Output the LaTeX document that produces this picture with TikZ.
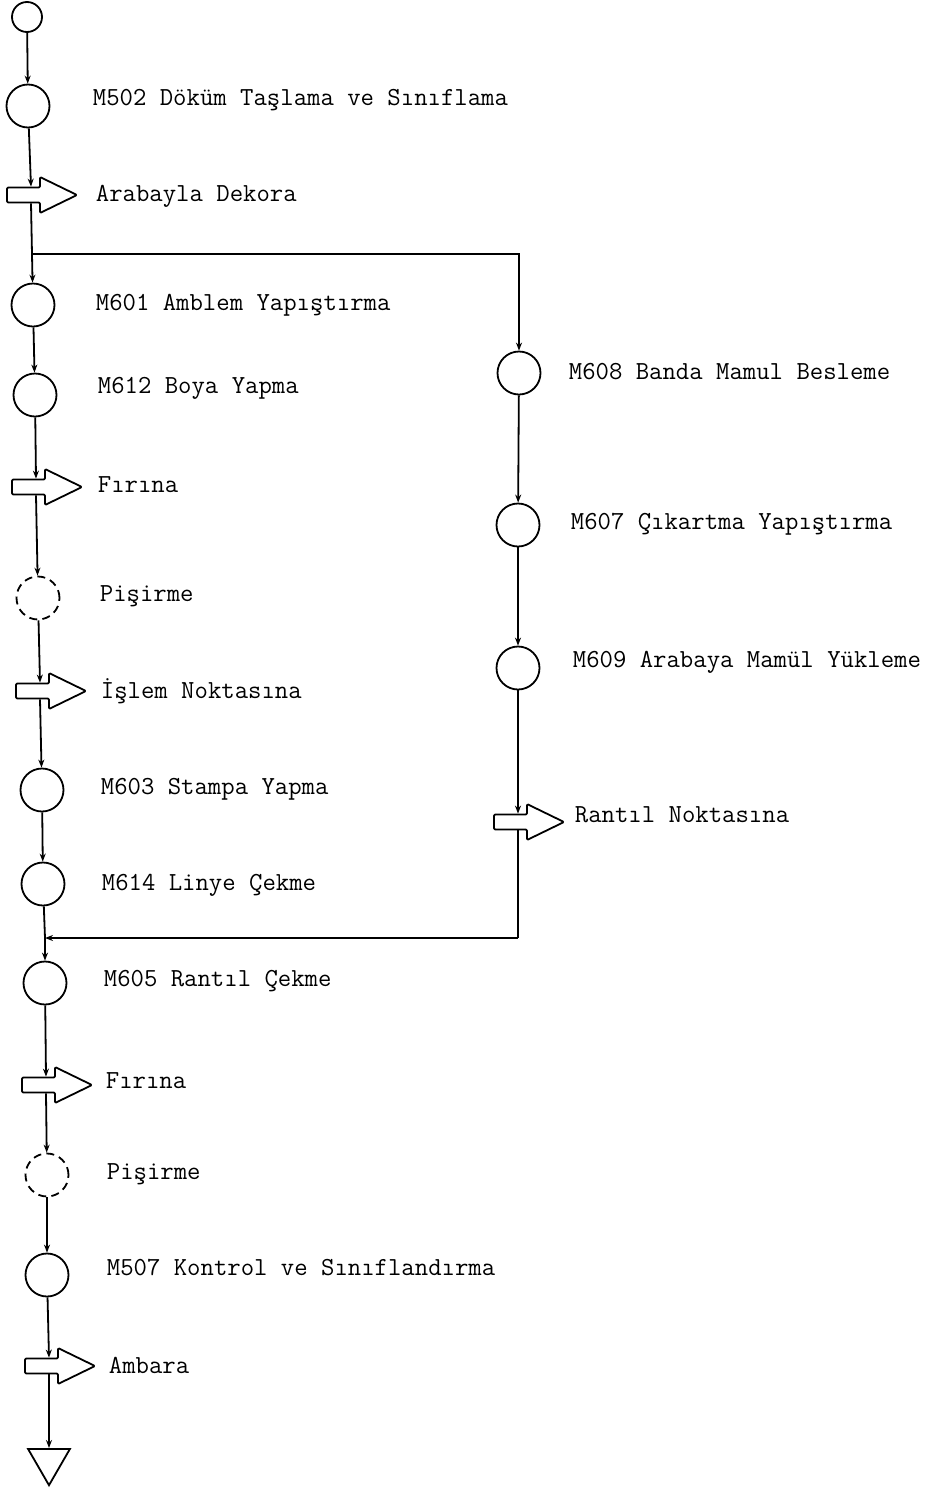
\documentclass[tikz,border=0pt]{standalone}
\usepackage{fontspec}
\usetikzlibrary{arrows.meta,shapes.geometric}
\tikzset{
  every picture/.style={line width=0.9pt},
  stn/.style={circle,draw,minimum size=21.5pt,inner sep=0pt},
  dstn/.style={stn,dash pattern=on 4pt off 2.6pt},
  lbl/.style={anchor=west,inner sep=0pt,font=\ttfamily\fontsize{13}{15}\selectfont},
  body/.style={inner sep=0pt,minimum width=0pt,minimum height=7.5pt},
  con/.style={-{Stealth[length=4pt,width=3pt]}},
  blockarrow/.pic={\draw[line join=round,rounded corners=0.6pt] (-24,7.5) -- (9,7.5) -- (9,18) -- (46,0) -- (9,-18) -- (9,-7.5) -- (-24,-7.5) -- cycle;}
}
\begin{document}
\begin{tikzpicture}[x=0.5pt,y=-0.5pt]
\useasboundingbox (0,0) rectangle (927,1489);
% main column
\node[stn,minimum size=15pt] (start) at (27,17) {};
\node[stn] (m502) at (28,106) {};
\node[lbl] (t502) at (92,100) {M502 Döküm Taşlama ve Sınıflama};
\node[body] (a1) at (31,195) {};
\pic at (a1) {blockarrow};
\node[lbl] (ta1) at (95,196) {Arabayla Dekora};
\coordinate (j1) at (32,254);
\node[stn] (m601) at (33,305) {};
\node[lbl] (t601) at (95,305) {M601 Amblem Yapıştırma};
\node[stn] (m612) at (35,395) {};
\node[lbl] (t612) at (97,388) {M612 Boya Yapma};
\node[body] (a2) at (36,487) {};
\pic at (a2) {blockarrow};
\node[lbl] (ta2) at (97,485) {Fırına};
\node[dstn] (p1) at (38,598) {};
\node[lbl] (tp1) at (99,596) {Pişirme};
\node[body] (a3) at (40,691) {};
\pic at (a3) {blockarrow};
\node[lbl] (ta3) at (100,691) {İşlem Noktasına};
\node[stn] (m603) at (42,790) {};
\node[lbl] (t603) at (100,789) {M603 Stampa Yapma};
\node[stn] (m614) at (43,884) {};
\node[lbl] (t614) at (101,885) {M614 Linye Çekme};
\coordinate (mg) at (45,938);
\node[stn] (m605) at (45,983) {};
\node[lbl] (t605) at (103,981) {M605 Rantıl Çekme};
\node[body] (a4) at (46,1085) {};
\pic at (a4) {blockarrow};
\node[lbl] (ta4) at (105,1081) {Fırına};
\node[dstn] (p2) at (47,1175) {};
\node[lbl] (tp2) at (106,1174) {Pişirme};
\node[stn] (m507) at (47,1275) {};
\node[lbl] (t507) at (106,1268) {M507 Kontrol ve Sınıflandırma};
\node[body] (a5) at (49,1366) {};
\pic at (a5) {blockarrow};
\node[lbl] (ta5) at (108,1365) {Ambara};
\node[regular polygon,regular polygon sides=3,shape border rotate=180,draw,minimum size=24.2pt,inner sep=0pt] (end) at (49,1461) {};
% right column
\node[stn] (m608) at (519,373) {};
\node[lbl] (t608) at (568,372) {M608 Banda Mamul Besleme};
\node[stn] (m607) at (518,525) {};
\node[lbl] (t607) at (570,524) {M607 Çıkartma Yapıştırma};
\node[stn] (m609) at (518,668) {};
\node[lbl] (t609) at (572,662) {M609 Arabaya Mamül Yükleme};
\node[body] (a6) at (518,822) {};
\pic at (a6) {blockarrow};
\node[lbl] (ta6) at (574,815) {Rantıl Noktasına};
\coordinate (c2) at (518,938);
% connectors
\draw[con] (start) -- (m502);
\draw[con] (m502) -- (a1.north);
\draw (a1.south) -- (j1);
\draw[con] (j1) -- (m601);
\draw[con] (j1) -| (m608);
\draw[con] (m601) -- (m612);
\draw[con] (m612) -- (a2.north);
\draw[con] (a2.south) -- (p1);
\draw[con] (p1) -- (a3.north);
\draw[con] (a3.south) -- (m603);
\draw[con] (m603) -- (m614);
\draw (m614) -- (mg);
\draw[con] (mg) -- (m605);
\draw[con] (m605) -- (a4.north);
\draw[con] (a4.south) -- (p2);
\draw[con] (p2) -- (m507);
\draw[con] (m507) -- (a5.north);
\draw[con] (a5.south) -- (end.north);
\draw[con] (m608) -- (m607);
\draw[con] (m607) -- (m609);
\draw[con] (m609) -- (a6.north);
\draw (a6.south) -- (c2);
\draw[con] (c2) -- (mg);
\end{tikzpicture}
\end{document}
